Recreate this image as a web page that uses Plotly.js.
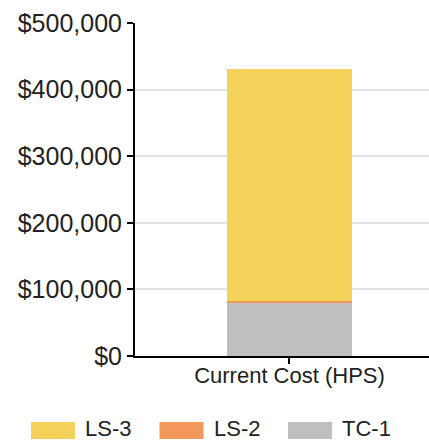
<!DOCTYPE html>
<html>
<head>
<meta charset="utf-8">
<script src="https://cdn.plot.ly/plotly-3.0.1.min.js"></script>
<style>html,body{margin:0;padding:0;background:#fff;}#chart{width:429px;height:442px;}</style>
</head>
<body>
<div id="chart"></div>
<script>
var categories = ["Current Cost (HPS)"];
var seriesNames = ["TC-1", "LS-2", "LS-3"];
var tc1Values = [80000];
var ls2Values = [2000];
var ls3Values = [349000];
var seriesColors = ["#BFBFBF", "#F4975A", "#F4D25A"];
var yTickVals = [0, 100000, 200000, 300000, 400000, 500000];
var yTickText = ["$0", "$100,000", "$200,000", "$300,000", "$400,000", "$500,000"];
var legendOrder = ["LS-3", "LS-2", "TC-1"];

var allValues = [tc1Values, ls2Values, ls3Values];
var traces = seriesNames.map(function (n, i) {
  return {
    type: "bar",
    name: n,
    x: categories,
    y: allValues[i],
    width: 0.4045,
    marker: { color: seriesColors[i], line: { width: 0 } },
    showlegend: false,
    hoverinfo: "none"
  };
});

var W = 429, H = 442, ml = 135, mr = 0, mt = 23, mb = 86;
var pw = W - ml - mr, ph = H - mt - mb;
function px2x(px) { return (px - ml) / pw; }
function py2y(py) { return (H - mb - py) / ph; }

var shapes = [], annotations = [];
legendOrder.forEach(function (n, i) {
  var idx = seriesNames.indexOf(n);
  var x0 = 31 + i * 128.5;
  shapes.push({
    type: "rect", xref: "paper", yref: "paper",
    x0: px2x(x0), x1: px2x(x0 + 44), y0: py2y(439), y1: py2y(422),
    fillcolor: seriesColors[idx], line: { width: 0 }
  });
  annotations.push({
    xref: "paper", yref: "paper", x: px2x(x0 + 53), y: py2y(442),
    xanchor: "left", yanchor: "bottom", showarrow: false, text: n,
    borderpad: 0,
    font: { family: "Liberation Sans, Arial, sans-serif", size: 22, color: "#222" }
  });
});

var layout = {
  width: W, height: H,
  margin: { l: ml, r: mr, t: mt, b: mb, pad: 0 },
  paper_bgcolor: "#fff", plot_bgcolor: "#fff",
  barmode: "stack",
  showlegend: false,
  font: { family: "Liberation Sans, Arial, sans-serif", color: "#222" },
  xaxis: {
    type: "category",
    range: [-0.5, 0.4515],
    showline: true, linecolor: "#000", linewidth: 2,
    ticks: "outside", ticklen: 6, tickcolor: "#000", tickwidth: 2,
    ticklabelstandoff: -7,
    tickfont: { size: 22, color: "#222" },
    showgrid: false, zeroline: false
  },
  yaxis: {
    range: [0, 500000],
    tickvals: yTickVals, ticktext: yTickText,
    showline: true, linecolor: "#000", linewidth: 2,
    ticks: "outside", ticklen: 6, tickcolor: "#000", tickwidth: 2,
    tickfont: { size: 25, color: "#222" },
    showgrid: true, gridcolor: "#e2e2e2", gridwidth: 2,
    zeroline: false
  },
  shapes: shapes,
  annotations: annotations
};

Plotly.newPlot("chart", traces, layout, { staticPlot: true, displayModeBar: false });
</script>
</body>
</html>
